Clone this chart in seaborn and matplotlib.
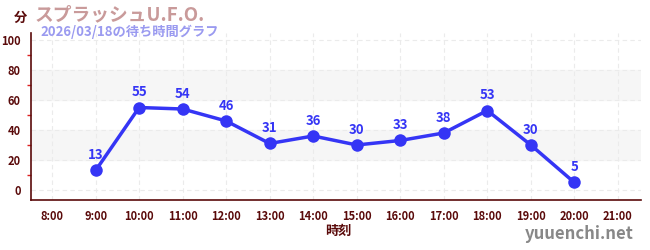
import matplotlib
matplotlib.use("Agg")
import matplotlib.pyplot as plt
import seaborn as sns
import pandas as pd

hours = [9, 10, 11, 12, 13, 14, 15, 16, 17, 18, 19, 20]
waits = [13, 55, 54, 46, 31, 36, 30, 33, 38, 53, 30, 5]
xtick_hours = list(range(8, 22))
xtick_labels = [f"{h}:00" for h in xtick_hours]
yticks = [0, 20, 40, 60, 80, 100]
title = "スプラッシュU.F.O."
subtitle = "2026/03/18の待ち時間グラフ"

sns.set_theme(style="white")
plt.rcParams['font.family'] = ['Noto Sans CJK JP', 'DejaVu Sans']

df = pd.DataFrame({"hour": hours, "wait": waits})

fig = plt.figure(figsize=(6.5, 2.5), dpi=100)
ax = fig.add_axes([0.048, 0.2, 0.938, 0.668])

line_color = "#3535f5"
dark = "#5a0a0a"

ax.axhspan(20, 40, color="#f6f6f6", zorder=0)
ax.axhspan(60, 80, color="#f6f6f6", zorder=0)

sns.lineplot(data=df, x="hour", y="wait", ax=ax, color=line_color, linewidth=2.5,
             marker="o", markersize=9, markeredgewidth=0, zorder=3)

for h, w in zip(hours, waits):
    ax.annotate(str(w), (h, w), xytext=(0, 6), textcoords="offset points",
                ha="center", va="bottom", color=line_color, fontsize=9.5, fontweight="bold")

ax.set_xlim(7.52, 21.53)
ax.set_ylim(-6.7, 104.7)
ax.set_xticks(xtick_hours)
ax.set_xticklabels(xtick_labels)
ax.set_yticks(yticks)
ax.set_yticks([10, 30, 50, 70, 90], minor=True)

ax.grid(True, which="major", color="#ebebeb", linestyle=(0, (4, 3)), linewidth=0.8)
ax.set_axisbelow(True)

for s in ["top", "right"]:
    ax.spines[s].set_visible(False)
for s in ["left", "bottom"]:
    ax.spines[s].set_color(dark)
    ax.spines[s].set_linewidth(1.2)

ax.tick_params(axis="both", which="major", colors=dark, labelsize=8, length=4, width=1, direction="out")
ax.tick_params(axis="y", which="minor", colors="#dd2222", length=3, width=1, left=True)
ax.tick_params(axis="x", which="major", color="#888888")
ax.tick_params(axis="y", which="major", color="#222222")
for lab in ax.get_xticklabels() + ax.get_yticklabels():
    lab.set_fontweight("bold")
    lab.set_color(dark)

ax.set_xlabel("")
ax.set_ylabel("")

fig.text(338 / 650, 1 - 231 / 250, "時刻", ha="center", va="center", color=dark, fontsize=9.5, fontweight="bold")
fig.text(14 / 650, 1 - 18 / 250, "分", ha="left", va="center", color=dark, fontsize=9.5, fontweight="bold")
fig.text(35 / 650, 1 - 15 / 250, title, ha="left", va="center", color="#c99a9a", fontsize=13.5, fontweight="bold")
fig.text(40 / 650, 1 - 32 / 250, subtitle, ha="left", va="center", color="#9a9af0", fontsize=9.5, fontweight="bold")
fig.text(634 / 650, 1 - 234 / 250, "yuuenchi.net", ha="right", va="center", color="#888888", fontsize=12, fontweight="bold")

fig.savefig("out.png", dpi=100, facecolor="white")
